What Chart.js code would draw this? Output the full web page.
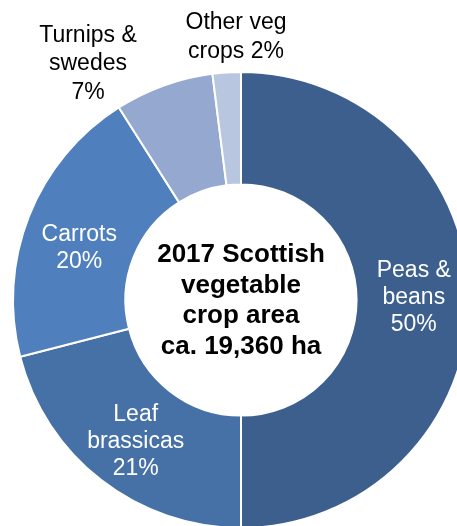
<!DOCTYPE html>
<html>
<head>
<meta charset="utf-8">
<script src="https://cdn.jsdelivr.net/npm/chart.js@4"></script>
<style>
  html, body { margin: 0; padding: 0; background: #fff; overflow: hidden; }
  #wrap { position: absolute; left: 0; top: 0; width: 457px; height: 526px; overflow: hidden; }
  #crop-chart { position: absolute; left: 0; top: 0; }
</style>
</head>
<body>
<div id="wrap"><canvas id="crop-chart" width="482" height="600"></canvas></div>
<script>
// 2017 Scottish vegetable crop area, share by crop (%)
const crops = ['Peas & beans', 'Leaf brassicas', 'Carrots', 'Turnips & swedes', 'Other veg crops'];
const shares = [50, 21, 20, 7, 2];
const labelLines = [['Peas &', 'beans'], ['Leaf', 'brassicas'], ['Carrots'], ['Turnips &', 'swedes'], ['Other veg', 'crops']];
const sliceColors = ['#3c5f8e', '#4571a7', '#4f80bd', '#94a8d0', '#b9c6e0'];
const centerTitle = ['2017 Scottish', 'vegetable', 'crop area', 'ca. 19,360 ha'];

// small slices get their labels outside the ring (offsets from chart centre)
const outsideLabel = { 3: { dx: -153, dy: -236, inline: false }, 4: { dx: -5, dy: -263, inline: true } };
// small nudges for the labels sitting inside the ring
const insideNudge = { 0: [1, -2], 1: [0, 6], 2: [-2, 11] };

const FONT = '"Liberation Sans", Arial, sans-serif';

const sliceLabels = {
  id: 'sliceLabels',
  afterDatasetsDraw(chart) {
    const ctx = chart.ctx;
    const meta = chart.getDatasetMeta(0);
    const cx = meta.data[0].x, cy = meta.data[0].y;
    ctx.save();
    ctx.textAlign = 'center';
    ctx.textBaseline = 'middle';
    ctx.font = '23px ' + FONT;
    meta.data.forEach((arc, i) => {
      const pct = shares[i] + '%';
      let lines, x, y, lh;
      if (outsideLabel[i]) {
        const o = outsideLabel[i];
        lines = o.inline ? labelLines[i].slice(0, -1).concat(labelLines[i].slice(-1)[0] + ' ' + pct)
                         : labelLines[i].concat(pct);
        x = cx + o.dx; y = cy + o.dy;
        lh = 28.5;
        ctx.fillStyle = '#000';
      } else {
        lines = labelLines[i].concat(pct);
        const p = arc.tooltipPosition();
        const n = insideNudge[i] || [0, 0];
        x = p.x + n[0]; y = p.y + n[1];
        lh = 27;
        ctx.fillStyle = '#fff';
      }
      const top = y - (lines.length - 1) * lh / 2;
      lines.forEach((t, k) => ctx.fillText(t, x, top + k * lh));
    });

    // centre title
    ctx.fillStyle = '#000';
    ctx.font = 'bold 26px ' + FONT;
    const th = 30.5;
    const t0 = cy + 1 - (centerTitle.length - 1) * th / 2;
    centerTitle.forEach((t, k) => ctx.fillText(t, cx, t0 + k * th));
    ctx.restore();
  }
};

new Chart(document.getElementById('crop-chart'), {
  type: 'doughnut',
  data: {
    labels: crops,
    datasets: [{
      data: shares,
      backgroundColor: sliceColors,
      borderColor: '#fff',
      borderWidth: 2,
    }]
  },
  options: {
    responsive: false,
    animation: false,
    cutout: '50.7%',
    layout: { padding: { left: 12, right: 12, top: 71, bottom: 71 } },
    plugins: {
      legend: { display: false },
      tooltip: { enabled: false },
    },
  },
  plugins: [sliceLabels],
});
</script>
</body>
</html>
